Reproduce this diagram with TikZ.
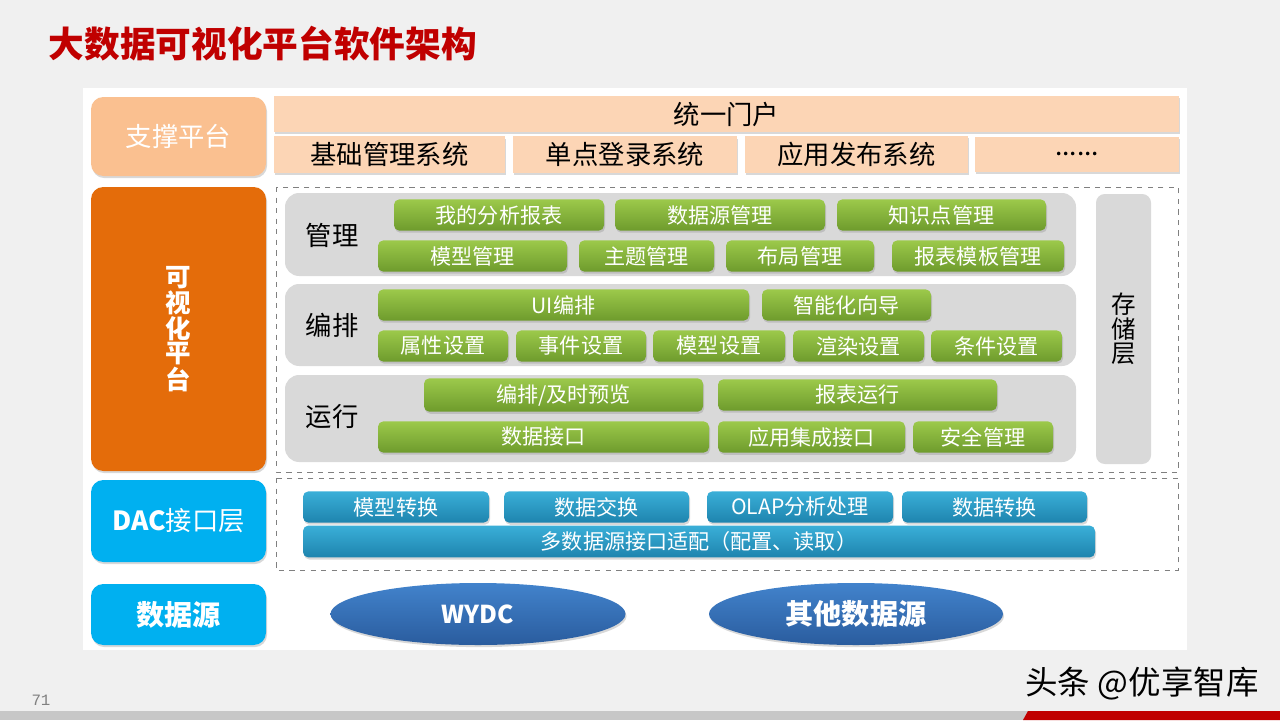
\documentclass[tikz,border=0pt]{standalone}
\usepackage{fontspec}
\setmainfont{Noto Sans CJK SC}
\newfontfamily\pagefont{Liberation Mono}
\usepackage{xcolor}
\usepackage{tikz}
\usetikzlibrary{shapes.geometric, shadows}
\definecolor{pagebg}{HTML}{F0F0F0}
\definecolor{titlered}{HTML}{C00000}
\definecolor{bpeach}{HTML}{FAC090}
\definecolor{lpeach}{HTML}{FCD5B5}
\definecolor{borange}{HTML}{E46C0A}
\definecolor{bcyan}{HTML}{00B0F0}
\definecolor{bgray}{HTML}{D9D9D9}
\definecolor{gtop}{HTML}{9CC94B}
\definecolor{gbot}{HTML}{6E9B2C}
\definecolor{btop}{HTML}{3AAFD8}
\definecolor{bbot}{HTML}{1E84AE}
\definecolor{etop}{HTML}{4283CC}
\definecolor{ebot}{HTML}{2A5C9E}
\tikzstyle{softshadow} = [drop shadow={shadow xshift=0.6pt, shadow yshift=-1.2pt, opacity=0.3}]
\tikzstyle{sideblock} = [rectangle, rounded corners=7pt, minimum width=3.5cm, text=white, align=center, softshadow]
\tikzstyle{barblock} = [rectangle, fill=lpeach, minimum height=0.7cm, font=\fontsize{15}{18}\selectfont, softshadow]
\tikzstyle{groupblock} = [rectangle, rounded corners=8pt, fill=bgray, minimum width=15.82cm]
\tikzstyle{greenbtn} = [rectangle, rounded corners=3pt, top color=gtop, bottom color=gbot, text=white, minimum height=0.56cm, font=\fontsize{12}{14}\selectfont, softshadow]
\tikzstyle{bluebtn} = [greenbtn, top color=btop, bottom color=bbot]
\tikzstyle{boundingbox} = [draw=gray, dashed]
\tikzstyle{srcnode} = [ellipse, top color=etop, bottom color=ebot, text=white, minimum width=5.9cm, minimum height=1.24cm, font=\bfseries\fontsize{16}{18}\selectfont, softshadow]

\begin{document}
\begin{tikzpicture}

    \useasboundingbox (0, 0) rectangle (25.6, -14.4);
    \fill[pagebg] (0, 0) rectangle (25.6, -14.4);
    \fill[white] (1.66, -1.76) rectangle (23.74, -13.0);
    \fill[black!22] (0, -14.22) rectangle (25.6, -14.4);
    \fill[titlered] (20.46, -14.4) -- (20.56, -14.22) -- (25.6, -14.22) -- (25.6, -14.4) -- cycle;

    \node[anchor=west, text=titlered, font=\bfseries\fontsize{20.3}{24}\selectfont] at (0.85, -0.88) (title) {大数据可视化平台软件架构};

    % left column
    \node[sideblock, fill=bpeach, minimum height=1.58cm, font=\fontsize{15}{18}\selectfont] at (3.57, -2.73) (support) {支撑平台};
    \node[sideblock, fill=borange, minimum height=5.68cm, font=\bfseries\fontsize{14.5}{12.2}\selectfont] at (3.57, -6.58) (visual) {可\\视\\化\\平\\台};
    \node[sideblock, fill=bcyan, minimum height=1.64cm, font=\fontsize{15}{18}\selectfont] at (3.57, -10.42) (dac) {{\bfseries DAC}接口层};
    \node[sideblock, fill=bcyan, minimum height=1.22cm, font=\bfseries\fontsize{16}{18}\selectfont] at (3.57, -12.29) (source) {数据源};

    % support platform
    \node[barblock, minimum width=18.1cm, minimum height=0.68cm] at (14.53, -2.28) (portal) {统一门户};
    \node[barblock, minimum width=4.62cm] at (7.79, -3.09) (basesys) {基础管理系统};
    \node[barblock, minimum width=4.48cm] at (12.5, -3.09) (sso) {单点登录系统};
    \node[barblock, minimum width=4.46cm] at (17.13, -3.09) (publish) {应用发布系统};
    \node[barblock, minimum width=4.08cm] at (21.54, -3.09) (more) {......};

    % visual platform
    \draw[boundingbox] (5.52, -3.74) rectangle (23.56, -9.44);

    \node[groupblock, minimum height=1.66cm] at (13.61, -4.69) (mgmt) {};
    \node[font=\fontsize{15}{18}\selectfont] at (6.64, -4.7) (mgmtlabel) {管理};
    \node[greenbtn, minimum width=4.2cm] at (9.98, -4.3) (myreport) {我的分析报表};
    \node[greenbtn, minimum width=4.2cm] at (14.4, -4.3) (dsmgmt) {数据源管理};
    \node[greenbtn, minimum width=4.18cm] at (18.83, -4.3) (kpmgmt) {知识点管理};
    \node[greenbtn, minimum width=3.78cm] at (9.45, -5.12) (modelmgmt) {模型管理};
    \node[greenbtn, minimum width=2.7cm] at (12.93, -5.12) (thememgmt) {主题管理};
    \node[greenbtn, minimum width=2.96cm] at (16.0, -5.12) (layoutmgmt) {布局管理};
    \node[greenbtn, minimum width=3.44cm] at (19.56, -5.12) (tplmgmt) {报表模板管理};

    \node[groupblock, minimum height=1.64cm] at (13.61, -6.5) (arrange) {};
    \node[font=\fontsize{15}{18}\selectfont] at (6.64, -6.5) (arrlabel) {编排};
    \node[greenbtn, minimum width=7.42cm] at (11.27, -6.1) (uiarr) {UI编排};
    \node[greenbtn, minimum width=3.38cm] at (16.93, -6.1) (wizard) {智能化向导};
    \node[greenbtn, minimum width=2.6cm] at (8.86, -6.92) (propset) {属性设置};
    \node[greenbtn, minimum width=2.6cm] at (11.62, -6.92) (eventset) {事件设置};
    \node[greenbtn, minimum width=2.64cm] at (14.38, -6.92) (modelset) {模型设置};
    \node[greenbtn, minimum width=2.62cm] at (17.17, -6.92) (renderset) {渲染设置};
    \node[greenbtn, minimum width=2.62cm] at (19.93, -6.92) (condset) {条件设置};

    \node[groupblock, minimum height=1.74cm] at (13.61, -8.37) (run) {};
    \node[font=\fontsize{15}{18}\selectfont] at (6.64, -8.34) (runlabel) {运行};
    \node[greenbtn, minimum width=5.58cm] at (11.27, -7.9) (preview) {编排/及时预览};
    \node[greenbtn, minimum width=5.58cm] at (17.15, -7.9) (reportrun) {报表运行};
    \node[greenbtn, minimum width=6.62cm] at (10.87, -8.74) (dataif) {数据接口};
    \node[greenbtn, minimum width=3.74cm] at (16.23, -8.74) (appif) {应用集成接口};
    \node[greenbtn, minimum width=2.8cm] at (19.66, -8.74) (security) {安全管理};

    \node[groupblock, minimum width=1.1cm, minimum height=5.4cm, rounded corners=5pt, align=center, font=\fontsize{14}{14}\selectfont] at (22.47, -6.58) (storage) {存\\储\\层};

    % DAC layer
    \draw[boundingbox] (5.52, -9.56) rectangle (23.56, -11.4);
    \node[bluebtn, minimum width=3.72cm] at (7.92, -10.14) (modelconv) {模型转换};
    \node[bluebtn, minimum width=3.7cm] at (11.93, -10.14) (dataex) {数据交换};
    \node[bluebtn, minimum width=3.72cm] at (16.0, -10.14) (olap) {OLAP分析处理};
    \node[bluebtn, minimum width=3.7cm] at (19.89, -10.14) (dataconv) {数据转换};
    \node[bluebtn, minimum width=15.84cm, minimum height=0.54cm] at (13.98, -10.83) (multisrc) {多数据源接口适配（配置、读取）};

    % data sources
    \node[srcnode, font=\bfseries\fontsize{14}{16}\selectfont] at (9.56, -12.28) (wydc) {WYDC};
    \node[srcnode, minimum width=5.88cm] at (17.12, -12.28) (othersrc) {其他数据源};

    \node[text=gray, font=\pagefont\fontsize{9}{10}\selectfont] at (0.82, -14.0) (pageno) {71};
    \node[font=\fontsize{18.5}{20}\selectfont] at (22.84, -13.68) (mark) {头条 @优享智库};

\end{tikzpicture}
\end{document}
